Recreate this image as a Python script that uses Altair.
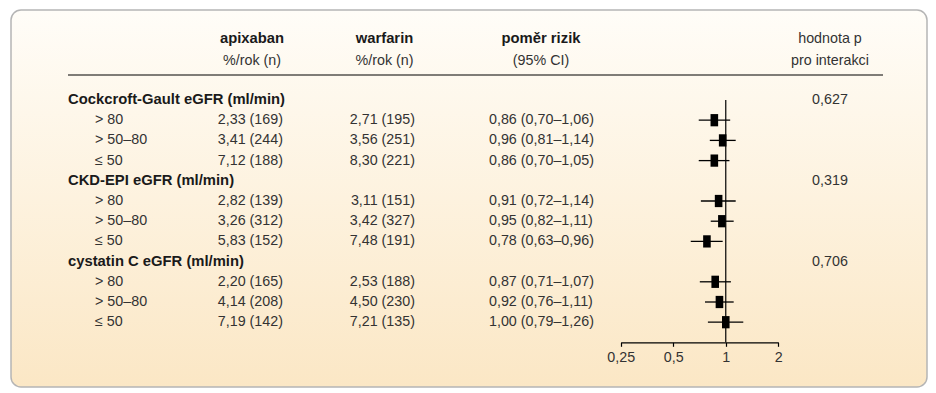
import altair as alt
import pandas as pd

# ---- data ----
groups = ["Cockcroft-Gault eGFR (ml/min)", "CKD-EPI eGFR (ml/min)", "cystatin C eGFR (ml/min)"]
p_values = ["0,627", "0,319", "0,706"]
subgroups = ["> 80", "> 50–80", "≤ 50"]
apixaban = ["2,33 (169)", "3,41 (244)", "7,12 (188)",
            "2,82 (139)", "3,26 (312)", "5,83 (152)",
            "2,20 (165)", "4,14 (208)", "7,19 (142)"]
warfarin = ["2,71 (195)", "3,56 (251)", "8,30 (221)",
            "3,11 (151)", "3,42 (327)", "7,48 (191)",
            "2,53 (188)", "4,50 (230)", "7,21 (135)"]
hr = [0.86, 0.96, 0.86, 0.91, 0.95, 0.78, 0.87, 0.92, 1.00]
hr_lo = [0.70, 0.81, 0.70, 0.72, 0.82, 0.63, 0.71, 0.76, 0.79]
hr_hi = [1.06, 1.14, 1.05, 1.14, 1.11, 0.96, 1.07, 1.11, 1.26]
hr_text = ["0,86 (0,70–1,06)", "0,96 (0,81–1,14)", "0,86 (0,70–1,05)",
           "0,91 (0,72–1,14)", "0,95 (0,82–1,11)", "0,78 (0,63–0,96)",
           "0,87 (0,71–1,07)", "0,92 (0,76–1,11)", "1,00 (0,79–1,26)"]
ticks = [0.25, 0.5, 1, 2]

# ---- tables ----
grp_rows = []
sub_rows = []
k = 0
for gi, g in enumerate(groups):
    base = gi * 4
    grp_rows.append({"row": base, "label": g, "p": p_values[gi]})
    for si, s in enumerate(subgroups):
        sub_rows.append({"row": base + 1 + si, "label": s,
                         "apix": apixaban[k], "warf": warfarin[k],
                         "hrt": hr_text[k], "hr": hr[k], "lo": hr_lo[k], "hi": hr_hi[k]})
        k += 1
grp_df = pd.DataFrame(grp_rows)
sub_df = pd.DataFrame(sub_rows)

FONT = "Liberation Sans"
TXT = "#333333"
BOLD = "#1a1a1a"
FS = 14.3
FSB = 14.8

yenc = alt.Y("row:Q", scale=alt.Scale(domain=[0, 11], range=[92, 314.2]), axis=None)
xscale = alt.Scale(type="log", base=2, domain=[0.25, 2], range=[612.7, 770.3])
xaxis = alt.Axis(values=ticks, labelExpr="replace(toString(datum.value), '.', ',')",
                 title=None, grid=False, offset=-45.7, tickSize=4, tickColor="black",
                 domainColor="black", domainWidth=1.2, tickWidth=1.2, zindex=1,
                 labelFlush=False, labelOverlap=False, labelAlign="center",
                 labelFont=FONT, labelFontSize=FS, labelColor=TXT, labelPadding=4)

# background panel
bg = alt.Chart(pd.DataFrame({"a": [0]})).mark_rect(
    fill=alt.Gradient(gradient="linear",
                      stops=[alt.GradientStop(color="#fffdf8", offset=0),
                             alt.GradientStop(color="#fbe7c5", offset=1)],
                      x1=0, x2=0, y1=0, y2=1),
    stroke="#b5b5b5", strokeWidth=1.5, cornerRadius=10
).encode(x=alt.value(3), x2=alt.value(919), y=alt.value(2), y2=alt.value(379))

# headers
hdr_df = pd.DataFrame({
    "t": ["apixaban", "%/rok (n)", "warfarin", "%/rok (n)", "poměr rizik", "(95% CI)",
          "hodnota p", "pro interakci"],
    "x": [244, 244, 376.5, 376.5, 533, 533, 822, 822],
    "y": [31, 52.7, 31, 52.7, 31, 52.7, 31, 52.7],
    "bold": [True, False, True, False, True, False, False, False],
})
hdr_bold = alt.Chart(hdr_df[hdr_df.bold]).mark_text(
    font=FONT, fontSize=FSB, fontWeight="bold", color=BOLD, align="center", baseline="middle"
).encode(x=alt.X("x:Q", scale=None), y=alt.Y("y:Q", scale=None), text="t:N")
hdr_reg = alt.Chart(hdr_df[~hdr_df.bold]).mark_text(
    font=FONT, fontSize=FS, color=TXT, align="center", baseline="middle"
).encode(x=alt.X("x:Q", scale=None), y=alt.Y("y:Q", scale=None), text="t:N")

hline = alt.Chart(pd.DataFrame({"a": [0]})).mark_rule(color="black", strokeWidth=1.2).encode(
    x=alt.value(60), x2=alt.value(875), y=alt.value(67))

grp_text = alt.Chart(grp_df).mark_text(
    font=FONT, fontSize=FSB, fontWeight="bold", color=BOLD, align="left", baseline="middle"
).encode(x=alt.value(60), y=yenc, text="label:N")
p_text = alt.Chart(grp_df).mark_text(
    font=FONT, fontSize=FS, color=TXT, align="center", baseline="middle"
).encode(x=alt.value(822), y=yenc, text="p:N")

sub_base = alt.Chart(sub_df)
lab = sub_base.mark_text(font=FONT, fontSize=FS, color=TXT, align="left", baseline="middle").encode(
    x=alt.value(87), y=yenc, text="label:N")
apx = sub_base.mark_text(font=FONT, fontSize=FS, color=TXT, align="right", baseline="middle").encode(
    x=alt.value(275), y=yenc, text="apix:N")
wrf = sub_base.mark_text(font=FONT, fontSize=FS, color=TXT, align="right", baseline="middle").encode(
    x=alt.value(407), y=yenc, text="warf:N")
hrt = sub_base.mark_text(font=FONT, fontSize=FS, color=TXT, align="left", baseline="middle").encode(
    x=alt.value(481), y=yenc, text="hrt:N")

# forest plot
refline = alt.Chart(pd.DataFrame({"a": [0]})).mark_rule(color="black", strokeWidth=1.2).encode(
    x=alt.datum(1, scale=xscale, axis=xaxis), y=alt.value(92), y2=alt.value(334.3))
ci = sub_base.mark_rule(color="black", strokeWidth=1.3).encode(
    x=alt.X("lo:Q", scale=xscale, axis=xaxis), x2="hi:Q", y=yenc)
box = sub_base.mark_point(
    shape="M-0.62,-1L0.62,-1L0.62,1L-0.62,1Z", filled=True, color="black", opacity=1, size=150
).encode(x=alt.X("hr:Q", scale=xscale, axis=xaxis), y=yenc)

chart = alt.layer(
    bg, hdr_bold, hdr_reg, hline, grp_text, p_text, lab, apx, wrf, hrt, refline, ci, box
).properties(
    width=920, height=380, padding=0,
    autosize=alt.AutoSizeParams(type="none"), background="white"
).configure_view(stroke=None)

chart.save("out.html", embed_options={"renderer": "svg", "actions": False})
